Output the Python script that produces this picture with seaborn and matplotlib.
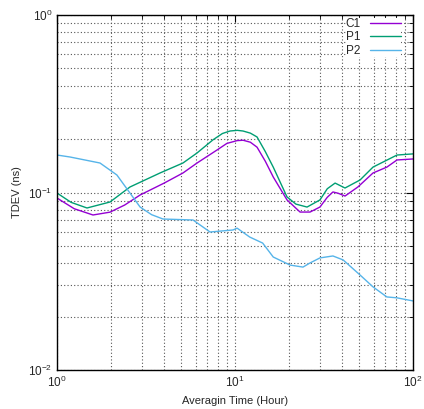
import numpy as np
import pandas as pd
import matplotlib
matplotlib.use("Agg")
import matplotlib.pyplot as plt
import matplotlib.ticker as mticker
import seaborn as sns

# ---- data ----
c1_x = [1.0, 1.25, 1.593, 1.985, 2.4, 2.93, 4.0, 5.10, 6.12, 7.92, 9.0, 10.27, 11.1, 12.2, 13.3, 14.8, 16.4, 19.6, 23.2, 26.4, 30.0, 33.0, 35.5, 38.0, 41.5, 49.0, 59.6, 71.3, 81.3, 100.0]
c1_y = [0.0931, 0.081, 0.0747, 0.0775, 0.085, 0.0968, 0.113, 0.1288, 0.1466, 0.1735, 0.189, 0.196, 0.197, 0.192, 0.180, 0.150, 0.1223, 0.0908, 0.0776, 0.0776, 0.0828, 0.094, 0.1007, 0.099, 0.0955, 0.1074, 0.1288, 0.139, 0.1525, 0.1545]

p1_x = [1.0, 1.2, 1.474, 1.985, 2.57, 3.79, 5.10, 6.12, 7.52, 8.5, 9.37, 10.3, 11.1, 12.2, 13.3, 14.8, 16.4, 19.6, 22.0, 25.4, 30.0, 33.0, 36.5, 41.5, 50.4, 59.6, 81.3, 100.0]
p1_y = [0.0993, 0.088, 0.0818, 0.0884, 0.1074, 0.1288, 0.1466, 0.167, 0.198, 0.215, 0.222, 0.224, 0.222, 0.216, 0.2055, 0.170, 0.139, 0.0944, 0.086, 0.0828, 0.0908, 0.105, 0.113, 0.106, 0.1176, 0.139, 0.1626, 0.165]

p2_x = [1.0, 1.183, 1.744, 2.17, 2.57, 2.93, 3.4, 3.94, 5.81, 7.24, 9.75, 10.27, 12.1, 14.3, 16.4, 20.4, 24.1, 26.4, 30.0, 35.5, 40.5, 50.4, 59.6, 71.3, 81.3, 100.0]
p2_y = [0.1626, 0.1585, 0.1466, 0.1255, 0.0993, 0.0828, 0.075, 0.0709, 0.0700, 0.0599, 0.0615, 0.063, 0.0561, 0.0519, 0.0433, 0.039, 0.038, 0.0401, 0.0428, 0.0439, 0.0417, 0.0343, 0.0294, 0.0258, 0.0255, 0.0245]

series_names = ["C1", "P1", "P2"]
colors = ["#9400D3", "#009E73", "#56B4E9"]

df = pd.concat([
    pd.DataFrame({"x": c1_x, "y": c1_y, "s": "C1"}),
    pd.DataFrame({"x": p1_x, "y": p1_y, "s": "P1"}),
    pd.DataFrame({"x": p2_x, "y": p2_y, "s": "P2"}),
], ignore_index=True)

sns.set_style("white")
plt.rcParams["font.family"] = ["Liberation Sans", "DejaVu Sans"]
plt.rcParams["mathtext.default"] = "regular"

fig = plt.figure(figsize=(4.24, 4.09), dpi=100)
ax = fig.add_axes([57/424, 1-370/409, 356/424, 355/409])

sns.lineplot(data=df, x="x", y="y", hue="s", hue_order=series_names,
             palette=dict(zip(series_names, colors)), estimator=None,
             sort=True, linewidth=1.0, ax=ax)

ax.set_xscale("log")
ax.set_yscale("log")
ax.set_xlim(1, 100)
ax.set_ylim(0.01, 1)

ax.xaxis.set_major_locator(mticker.LogLocator(base=10, numticks=10))
ax.yaxis.set_major_locator(mticker.LogLocator(base=10, numticks=10))
ax.xaxis.set_minor_locator(mticker.LogLocator(base=10, subs=np.arange(2, 10), numticks=20))
ax.yaxis.set_minor_locator(mticker.LogLocator(base=10, subs=np.arange(2, 10), numticks=20))
ax.xaxis.set_minor_formatter(mticker.NullFormatter())
ax.yaxis.set_minor_formatter(mticker.NullFormatter())

ax.grid(True, which="both", linestyle=(0, (1, 2)), color="#555555", linewidth=0.8)
ax.set_axisbelow(True)
ax.tick_params(which="both", direction="in", top=True, right=True, labelsize=8.5, color="black")
ax.tick_params(which="major", length=5)
ax.tick_params(which="minor", length=3)
for sp in ax.spines.values():
    sp.set_color("black")
    sp.set_linewidth(1.0)

ax.set_xlabel("Averagin Time (Hour)", fontsize=8)
ax.set_ylabel("TDEV (ns)", fontsize=8)

leg = ax.legend(loc="upper right", bbox_to_anchor=(401/424, 1-18/409),
                bbox_transform=fig.transFigure, frameon=True, markerfirst=False,
                fontsize=8.5, handlelength=2.6, handletextpad=0.8,
                labelspacing=0.12, borderaxespad=0.0, borderpad=0.0)
leg.get_frame().set_facecolor("white")
leg.get_frame().set_edgecolor("none")
leg.get_frame().set_alpha(1.0)
leg.set_title(None)

fig.savefig("out.png", dpi=100)
